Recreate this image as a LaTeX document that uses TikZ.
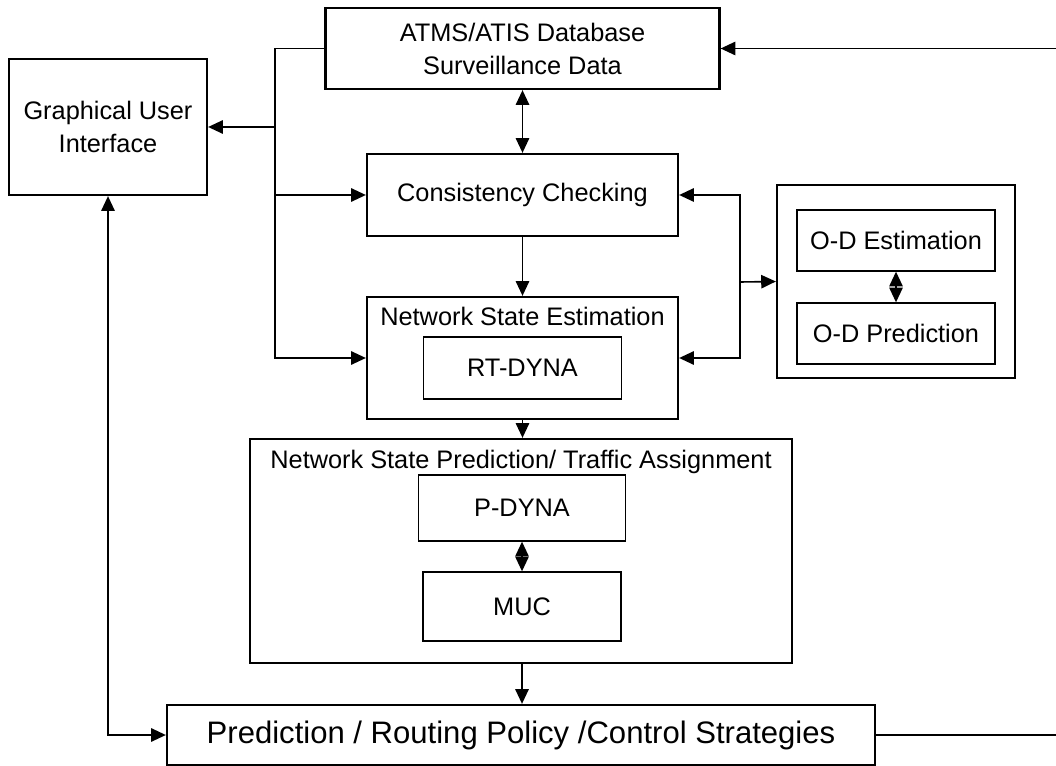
\documentclass[tikz,border=0pt]{standalone}
\usepackage{fontspec}
\setmainfont{Liberation Sans}
\usetikzlibrary{arrows.meta}

\tikzset{
    box/.style={draw, line width=1.7pt, inner sep=0pt, align=center,
        font=\fontsize{19}{24.75}\selectfont},
    inbox/.style={draw, line width=1pt, inner sep=0pt, align=center,
        font=\fontsize{19}{24.75}\selectfont},
    title/.style={anchor=base, inner sep=0pt, font=\fontsize{19}{24.75}\selectfont},
    link/.style={line width=1.2pt},
    conn/.style={link, -{Triangle[length=11pt,width=10pt]}},
    dconn/.style={link, {Triangle[length=11pt,width=10pt]}-{Triangle[length=11pt,width=10pt]}}
}

\begin{document}
\begin{tikzpicture}[x=0.75pt, y=-0.75pt]
        \useasboundingbox (0,0) rectangle (1056,766);

        % Boxes
        \node[box, minimum width=198*0.75pt, minimum height=136*0.75pt] (gui) at (108,127) {Graphical User\\Interface};
        \node[box, minimum width=394*0.75pt, minimum height=81*0.75pt] (atms) at (522.5,48.5) {ATMS/ATIS Database\\Surveillance Data};
        \node[box, minimum width=311*0.75pt, minimum height=82*0.75pt] (cc) at (522.5,195) {Consistency Checking};
        \node[box, minimum width=311*0.75pt, minimum height=122*0.75pt] (nse) at (522.5,358) {};
        \node[title] (nsetitle) at (522.5,326) {Network State Estimation};
        \node[inbox, minimum width=198*0.75pt, minimum height=62*0.75pt] (rt) at (522.5,368) {RT-DYNA};

        % O-D block
        \node[box, minimum width=238*0.75pt, minimum height=193*0.75pt] (od) at (896,281.5) {};
        \node[inbox, minimum width=198*0.75pt, minimum height=61*0.75pt] (ode) at (896,240.5) {O-D Estimation};
        \node[inbox, minimum width=198*0.75pt, minimum height=61*0.75pt] (odp) at (896,333.5) {O-D Prediction};

        % Prediction / assignment block
        \node[box, minimum width=542*0.75pt, minimum height=224*0.75pt] (nsp) at (521,551) {};
        \node[title] (nsptitle) at (521,468) {Network State Prediction/ Traffic Assignment};
        \node[inbox, minimum width=207*0.75pt, minimum height=66*0.75pt] (pd) at (522,508) {P-DYNA};
        \node[inbox, minimum width=198*0.75pt, minimum height=69*0.75pt] (muc) at (522,606.5) {MUC};
        \node[box, minimum width=708*0.75pt, minimum height=60*0.75pt, font=\fontsize{23.3}{28}\selectfont] (prcs) at (521,735) {Prediction / Routing Policy /Control Strategies};

        % Trunk points
        \coordinate (ltrunk) at (275,127);
        \coordinate (rtrunk) at (740,282);
        \coordinate (edgetop) at (1056,48.5);
        \coordinate (edgebot) at (1056,735);

        % Connectors
        \draw[conn] (atms.west) -| (ltrunk) |- (nse.west);
        \draw[conn] (ltrunk) -- (gui.east);
        \draw[conn] (ltrunk |- cc.west) -- (cc.west);
        \draw[dconn] (atms.south) -- (cc.north);
        \draw[conn] (cc.south) -- (nse.north);
        \draw[conn] (rtrunk) -- (od.west);
        \draw[conn] (rtrunk) |- (cc.east);
        \draw[conn] (rtrunk) |- (nse.east);
        \draw[dconn] (ode.south) -- (odp.north);
        \draw[conn] (nse.south) -- (nse.south |- nsp.north);
        \draw[dconn] (pd.south) -- (muc.north);
        \draw[conn] (muc.south |- nsp.south) -- (muc.south |- prcs.north);
        \draw[dconn] (gui.south) |- (prcs.west);
        \draw[link] (prcs.east) -- (edgebot);
        \draw[conn] (edgetop) -- (atms.east);
    \end{tikzpicture}
\end{document}
